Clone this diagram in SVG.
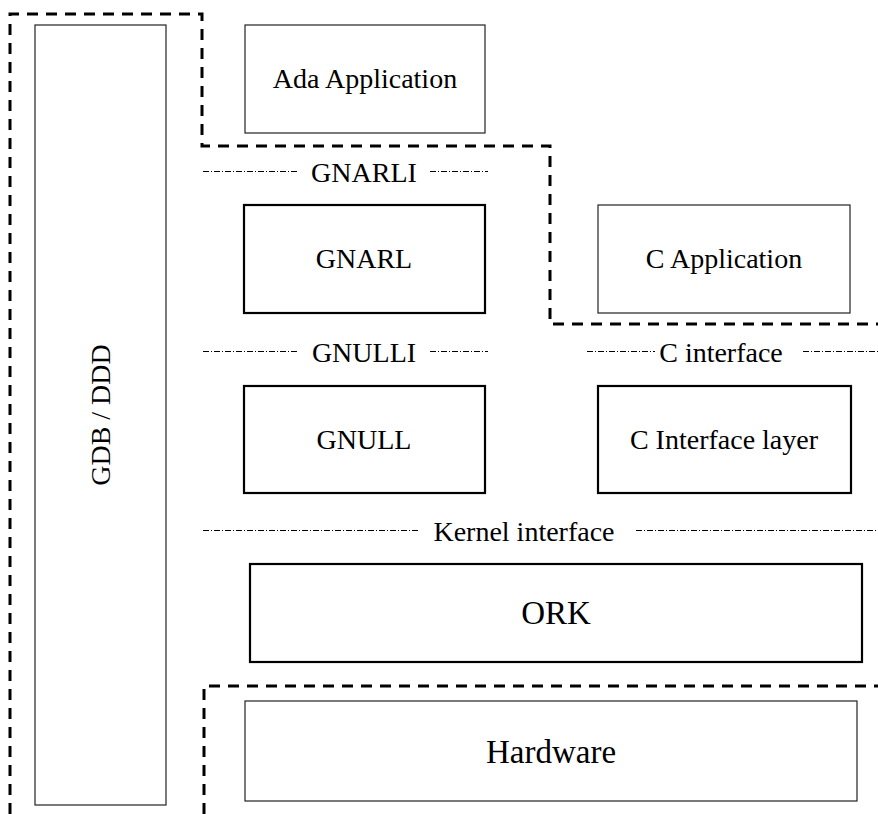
<svg xmlns="http://www.w3.org/2000/svg" width="878" height="814" viewBox="0 0 878 814">
<style>
.thin{fill:#fff;stroke:#222;stroke-width:1.2}
.thick{fill:#fff;stroke:#000;stroke-width:2.2}
.bound{fill:none;stroke:#000;stroke-width:3;stroke-dasharray:11 8}
.iface{fill:none;stroke:#000;stroke-width:1;stroke-dasharray:6 2 1 2}
.t{font-family:'Liberation Serif','DejaVu Serif',serif;font-size:28px;fill:#000;text-anchor:middle}
.big{font-size:33px}
</style>
<rect width="878" height="814" fill="#fff"/>
<g id="boundaries">
<path class="bound" d="M10,814 V14 H202 V146 H550 V324 H878"/>
<path class="bound" d="M204,814 V686 H878"/>
</g>
<g id="connectors">
<line class="iface" x1="203" y1="171.5" x2="298" y2="171.5"/>
<line class="iface" x1="430" y1="171.5" x2="488" y2="171.5"/>
<line class="iface" x1="203" y1="351.5" x2="298" y2="351.5"/>
<line class="iface" x1="430" y1="351.5" x2="488" y2="351.5"/>
<line class="iface" x1="587" y1="351.5" x2="655" y2="351.5"/>
<line class="iface" x1="803" y1="351.5" x2="878" y2="351.5"/>
<line class="iface" x1="203" y1="530.5" x2="420" y2="530.5"/>
<line class="iface" x1="636" y1="530.5" x2="878" y2="530.5"/>
</g>
<g id="labels">
<text class="t" x="364" y="182">GNARLI</text>
<text class="t" x="364" y="362">GNULLI</text>
<text class="t" x="721" y="362">C interface</text>
<text class="t" x="524" y="541">Kernel interface</text>
</g>
<g id="gdb"><rect class="thin" x="35" y="25" width="131" height="780"/>
<text class="t" transform="translate(110,415) rotate(-90)">GDB / DDD</text></g>
<g id="ada"><rect class="thin" x="245" y="25" width="240" height="108"/><text class="t" x="365" y="88">Ada Application</text></g>
<g id="gnarl"><rect class="thick" x="244" y="205" width="241" height="108"/><text class="t" x="364" y="268">GNARL</text></g>
<g id="capp"><rect class="thin" x="598" y="205" width="252" height="108"/><text class="t" x="724" y="268">C Application</text></g>
<g id="gnull"><rect class="thick" x="244" y="386" width="241" height="107"/><text class="t" x="364" y="449">GNULL</text></g>
<g id="cil"><rect class="thick" x="598" y="386" width="253" height="107"/><text class="t" x="724" y="449">C Interface layer</text></g>
<g id="ork"><rect class="thick" x="250" y="564" width="612" height="98"/><text class="t big" x="556" y="624">ORK</text></g>
<g id="hw"><rect class="thin" x="245" y="701" width="612" height="100"/><text class="t big" x="551" y="763">Hardware</text></g>
</svg>
